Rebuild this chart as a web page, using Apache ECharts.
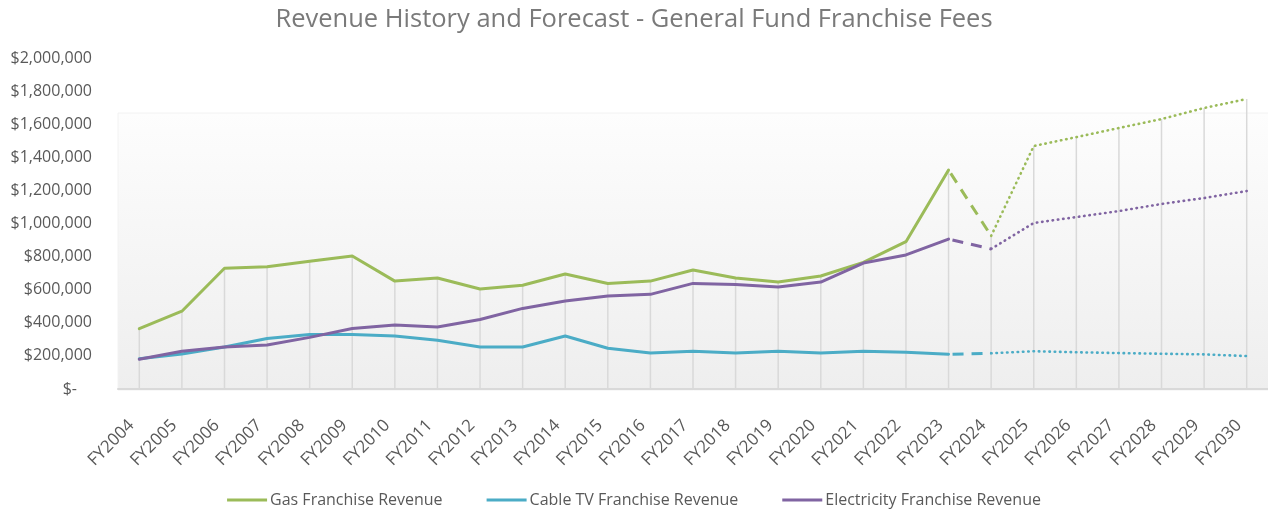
<!DOCTYPE html>
<html>
<head>
<meta charset="utf-8">
<title>Revenue History and Forecast - General Fund Franchise Fees</title>
<script src="https://cdn.jsdelivr.net/npm/echarts@6/dist/echarts.min.js"></script>
<style>
  html, body { margin: 0; padding: 0; background: #ffffff; }
  #chart { width: 1268px; height: 513px; }
</style>
</head>
<body>
<div id="chart"></div>
<script>
// Fiscal years; FY2023 is the last actual year, FY2024 an estimate, FY2025+ forecast
const categories = [
  'FY2004','FY2005','FY2006','FY2007','FY2008','FY2009','FY2010','FY2011','FY2012',
  'FY2013','FY2014','FY2015','FY2016','FY2017','FY2018','FY2019','FY2020','FY2021',
  'FY2022','FY2023','FY2024','FY2025','FY2026','FY2027','FY2028','FY2029','FY2030'
];

const gasRevenue = [
  365000, 470000, 730000, 738000, 772000, 804000, 652000, 671000, 604000,
  627000, 695000, 638000, 652000, 719000, 671000, 646000, 683000, 765000,
  890000, 1323000, 925000, 1468000, 1522000, 1577000, 1631000, 1698000, 1752000
];

const cableRevenue = [
  183000, 211000, 254000, 305000, 330000, 330000, 320000, 294000, 254000,
  254000, 320000, 246000, 218000, 228000, 218000, 228000, 218000, 228000,
  222000, 210000, 216000, 228000, 222000, 217000, 213000, 209000, 199000
];

const electricRevenue = [
  180000, 228000, 254000, 266000, 312000, 366000, 386000, 375000, 420000,
  487000, 532000, 562000, 572000, 638000, 632000, 616000, 646000, 761000,
  810000, 906000, 846000, 1003000, 1039000, 1075000, 1118000, 1154000, 1196000
];

const yTicks = [0, 200000, 400000, 600000, 800000, 1000000, 1200000, 1400000, 1600000, 1800000, 2000000];

const seriesNames = ['Gas Franchise Revenue', 'Cable TV Franchise Revenue', 'Electricity Franchise Revenue'];
const seriesColors = ['#9bbb59', '#4bacc6', '#8064a2'];

const LAST_ACTUAL = categories.indexOf('FY2023');
const ESTIMATE = categories.indexOf('FY2024');

function slice(values, from, to) {
  return values.map((v, i) => (i >= from && i <= to ? v : null));
}

const FONT = '"Open Sans", sans-serif';
const chart = echarts.init(document.getElementById('chart'), null, { renderer: 'canvas' });

const allSeries = [gasRevenue, cableRevenue, electricRevenue];
const series = [];

// vertical drop lines from the axis up to the highest value in each year
series.push({
  type: 'custom',
  silent: true,
  z: 1,
  data: categories.map((c, i) => [i, Math.max(gasRevenue[i], cableRevenue[i], electricRevenue[i])]),
  renderItem: function (params, api) {
    const top = api.coord([api.value(0), api.value(1)]);
    const bottom = api.coord([api.value(0), 0]);
    return {
      type: 'line',
      shape: { x1: top[0], y1: top[1], x2: bottom[0], y2: bottom[1] },
      style: { stroke: '#d9d9d9', lineWidth: 1.5 }
    };
  }
});

allSeries.forEach((values, k) => {
  const base = {
    type: 'line',
    symbol: 'none',
    showSymbol: false,
    silent: true,
    z: 3,
    connectNulls: false,
    color: seriesColors[k]
  };
  // actuals
  series.push(Object.assign({}, base, {
    name: seriesNames[k],
    data: slice(values, 0, LAST_ACTUAL),
    lineStyle: { width: 3, color: seriesColors[k], cap: 'round', join: 'round' }
  }));
  // estimate year
  series.push(Object.assign({}, base, {
    name: seriesNames[k] + ' (estimate)',
    data: slice(values, LAST_ACTUAL, ESTIMATE),
    lineStyle: { width: 3, color: seriesColors[k], type: [11, 8], dashOffset: -4 }
  }));
  // forecast years
  series.push(Object.assign({}, base, {
    name: seriesNames[k] + ' (forecast)',
    data: slice(values, ESTIMATE, categories.length - 1),
    lineStyle: { width: 2.6, color: seriesColors[k], type: [0.5, 4.8], cap: 'round' }
  }));
});

chart.setOption({
  backgroundColor: '#ffffff',
  animation: false,
  title: {
    text: 'Revenue History and Forecast - General Fund Franchise Fees',
    left: 'center',
    top: 2,
    textStyle: { fontFamily: FONT, fontSize: 25.5, fontWeight: 'normal', color: '#7a7a7a' }
  },
  legend: {
    bottom: 0,
    left: 'center',
    data: seriesNames,
    icon: 'rect',
    itemWidth: 40,
    itemHeight: 3,
    itemGap: 44,
    textStyle: { fontFamily: FONT, fontSize: 16, color: '#595959', padding: [0, 0, 0, -2] }
  },
  graphic: [{
    // plot area backdrop with a soft grey fade toward the axis
    type: 'rect',
    z: -10,
    shape: { x: 118, y: 113, width: 1160, height: 277 },
    style: {
      fill: new echarts.graphic.LinearGradient(0, 0, 0, 1, [
        { offset: 0, color: '#fdfdfd' },
        { offset: 1, color: '#eeeeee' }
      ]),
      stroke: '#f2f2f2',
      lineWidth: 1
    }
  }],
  grid: { left: 118, right: -3, top: 58, bottom: 124, containLabel: false },
  xAxis: {
    type: 'category',
    data: categories,
    boundaryGap: true,
    axisLine: { show: true, lineStyle: { color: '#d9d9d9', width: 2 } },
    axisTick: { show: false },
    splitLine: { show: false },
    axisLabel: {
      rotate: 45,
      interval: 0,
      margin: 26,
      fontFamily: FONT,
      fontSize: 17,
      color: '#595959',
      padding: [0, 11, 0, 0]
    }
  },
  yAxis: {
    type: 'value',
    min: yTicks[0],
    max: yTicks[yTicks.length - 1],
    interval: yTicks[1] - yTicks[0],
    axisLine: { show: false },
    axisTick: { show: false },
    splitLine: { show: false },
    axisLabel: {
      margin: 26,
      fontFamily: FONT,
      fontSize: 16,
      color: '#595959',
      formatter: function (v) {
        if (v === 0) return '{z|$-}';
        return '$' + v.toLocaleString('en-US');
      },
      rich: {
        z: { fontFamily: FONT, fontSize: 16, color: '#595959', padding: [0, 15, 0, 0] }
      }
    }
  },
  series: series
});
</script>
</body>
</html>
